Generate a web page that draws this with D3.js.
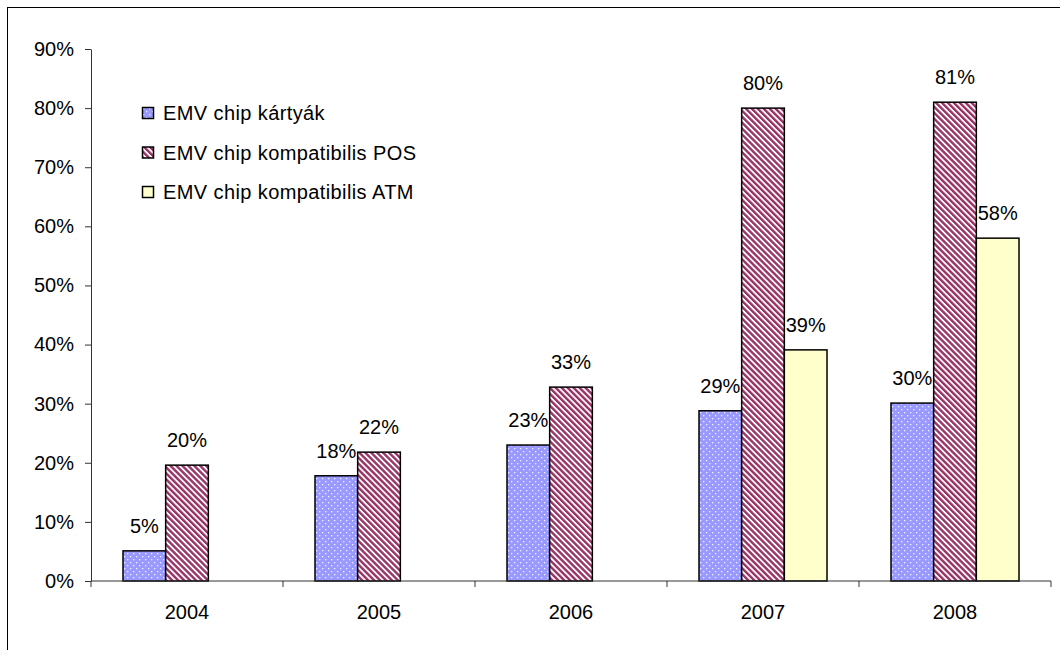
<!DOCTYPE html>
<html>
<head>
<meta charset="utf-8">
<script src="https://cdn.jsdelivr.net/npm/d3@7"></script>
<style>
  html, body { margin: 0; padding: 0; background: #fff; }
  svg { display: block; font-family: "Liberation Sans", Arial, sans-serif; }
</style>
</head>
<body>
<svg id="chart" width="1060" height="650"></svg>
<script>
// Years on the category axis
const years = ["2004", "2005", "2006", "2007", "2008"];
// Share of EMV chip cards
const chipCards = [0.051, 0.178, 0.230, 0.288, 0.301];
// Share of EMV-compatible POS terminals
const chipPOS = [0.196, 0.218, 0.328, 0.800, 0.810];
// Share of EMV-compatible ATMs (no data before 2007)
const chipATM = [null, null, null, 0.391, 0.580];
// Series names shown in the legend
const seriesNames = ["EMV chip kártyák", "EMV chip kompatibilis POS", "EMV chip kompatibilis ATM"];
// Value-axis tick labels
const yTicks = [0, 0.1, 0.2, 0.3, 0.4, 0.5, 0.6, 0.7, 0.8, 0.9];

const series = [chipCards, chipPOS, chipATM];
const fills = ["url(#dots)", "url(#stripes)", "#FFFFCC"];

const svg = d3.select("#chart");
const defs = svg.append("defs");

// Light blue fill with a staggered grid of small white dots
const dots = defs.append("pattern")
  .attr("id", "dots").attr("patternUnits", "userSpaceOnUse")
  .attr("width", 6).attr("height", 6);
dots.append("rect").attr("width", 6).attr("height", 6).attr("fill", "#9999FF");
dots.append("rect").attr("x", 1).attr("y", 1).attr("width", 1.3).attr("height", 1.3).attr("fill", "#fff").attr("opacity", 0.85);
dots.append("rect").attr("x", 4).attr("y", 4).attr("width", 1.3).attr("height", 1.3).attr("fill", "#fff").attr("opacity", 0.85);

// Wide downward diagonal stripes, plum on white
const stripes = defs.append("pattern")
  .attr("id", "stripes").attr("patternUnits", "userSpaceOnUse")
  .attr("width", 4.2).attr("height", 4.2)
  .attr("patternTransform", "rotate(-45)");
stripes.append("rect").attr("width", 4.2).attr("height", 4.2).attr("fill", "#fff");
stripes.append("rect").attr("width", 2.4).attr("height", 4.2).attr("fill", "#993366");

// Chart frame
svg.append("rect")
  .attr("x", 7.5).attr("y", 7.5).attr("width", 1100).attr("height", 700)
  .attr("fill", "none").attr("stroke", "#000").attr("stroke-width", 1);

const plot = { left: 91, right: 1051, top: 49, bottom: 581 };

const x = d3.scaleBand().domain(years).range([plot.left, plot.right]).paddingInner(0).paddingOuter(0);
const y = d3.scaleLinear().domain([0, 0.9]).range([plot.bottom, plot.top]);

// Three bars per year with a gap of 1.5 bar widths between groups
const barW = x.bandwidth() / 4.5;
const inner = d3.scaleBand().domain([0, 1, 2]).range([barW * 0.75, barW * 3.75]).padding(0);

const pct = d3.format(".0%");
const axisColor = "#333";

// Value axis
const yAxis = svg.append("g")
  .attr("transform", `translate(${plot.left},0)`)
  .call(d3.axisLeft(y).tickValues(yTicks).tickFormat(pct).tickSizeInner(6).tickSizeOuter(0).tickPadding(11));
yAxis.select(".domain").attr("stroke", axisColor);
yAxis.selectAll(".tick line").attr("stroke", axisColor);
yAxis.selectAll(".tick text").attr("font-size", 20).attr("fill", "#000").attr("font-family", "Liberation Sans, Arial, sans-serif");

// Bars
series.forEach((vals, s) => {
  svg.append("g").selectAll("rect")
    .data(years.map((yr, i) => ({ yr, v: vals[i] })).filter(d => d.v != null))
    .join("rect")
    .attr("x", d => x(d.yr) + inner(s))
    .attr("y", d => y(d.v))
    .attr("width", inner.bandwidth())
    .attr("height", d => y(0) - y(d.v))
    .attr("fill", fills[s])
    .attr("stroke", "#000")
    .attr("stroke-width", 1.5);
});

// Category axis: ticks at the group boundaries
const xAxis = svg.append("g").attr("transform", `translate(0,${plot.bottom})`);
xAxis.append("line")
  .attr("x1", plot.left).attr("x2", plot.right)
  .attr("stroke", axisColor);
const boundaries = years.map(yr => x(yr)).concat([x(years[years.length - 1]) + x.bandwidth()]);
xAxis.selectAll("line.tick").data(boundaries).join("line")
  .attr("class", "tick")
  .attr("x1", d => d).attr("x2", d => d)
  .attr("y1", 0).attr("y2", 6)
  .attr("stroke", axisColor);
xAxis.selectAll("text").data(years).join("text")
  .attr("x", d => x(d) + x.bandwidth() / 2)
  .attr("y", 38)
  .attr("text-anchor", "middle")
  .attr("font-size", 20)
  .text(d => d);

// Value labels above the bars
series.forEach((vals, s) => {
  svg.append("g").selectAll("text")
    .data(years.map((yr, i) => ({ yr, v: vals[i] })).filter(d => d.v != null))
    .join("text")
    .attr("x", d => x(d.yr) + inner(s) + inner.bandwidth() / 2)
    .attr("y", d => y(d.v) - 18)
    .attr("text-anchor", "middle")
    .attr("font-size", 20)
    .text(d => pct(d.v));
});

// Legend
const legend = svg.append("g").attr("transform", "translate(142,113)");
const rows = legend.selectAll("g").data(seriesNames).join("g")
  .attr("transform", (d, i) => `translate(0,${i * 39.5})`);
rows.append("rect")
  .attr("x", 0.5).attr("y", -5.5).attr("width", 11).attr("height", 11)
  .attr("fill", (d, i) => fills[i])
  .attr("stroke", "#000").attr("stroke-width", 1.5);
rows.append("text")
  .attr("x", 21).attr("y", 7)
  .attr("font-size", 20)
  .attr("letter-spacing", 0.4)
  .text(d => d);
</script>
</body>
</html>
